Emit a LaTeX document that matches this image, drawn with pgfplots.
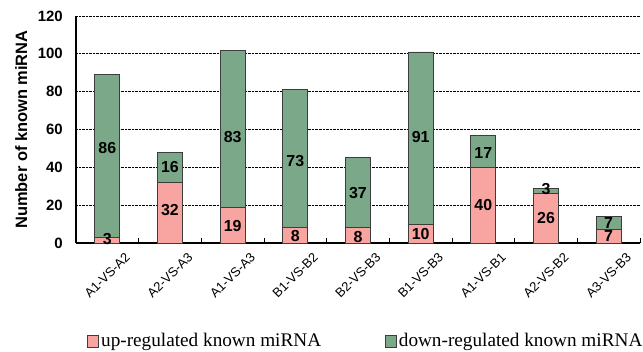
\documentclass[border=0pt]{standalone}
\usepackage{pgfplots}
\pgfplotsset{compat=1.18}
\usepackage{fontspec}
\setmainfont{Liberation Sans}
\newfontfamily\legfont{Liberation Serif}
\definecolor{upc}{RGB}{248,164,160}
\definecolor{downc}{RGB}{124,168,138}
\definecolor{edge}{RGB}{60,60,60}
\pgfplotsset{
  common/.style={
    scale only axis, width=564bp, height=227bp,
    xmin=-0.5, xmax=8.5, ymin=0, ymax=120,
  }
}
\begin{document}
\begin{tikzpicture}
\begin{axis}[
  common,
  ybar stacked, bar width=25bp,
  axis lines*=left,
  axis line style={line width=1.3pt, black},
  xtick={0,...,8},
  xticklabels={A1-VS-A2,A2-VS-A3,A1-VS-A3,B1-VS-B2,B2-VS-B3,B1-VS-B3,A1-VS-B1,A2-VS-B2,A3-VS-B3},
  x tick label style={rotate=45, anchor=north east, inner sep=0pt, font=\fontsize{13}{13}\selectfont, xshift=6bp, yshift=-18bp},
  major x tick style={draw=none},
  minor xtick={0.5,1.5,...,8.5},
  minor tick length=5bp,
  minor x tick style={black, line width=0.8pt},
  tick align=inside,
  ytick={0,20,...,120},
  y tick style={draw=none},
  /pgf/number format/assume math mode=true,
  yticklabel style={font=\bfseries\fontsize{15}{15}\selectfont, inner sep=0pt, xshift=-13bp},
  ymajorgrids,
  grid style={densely dotted, black, line width=0.9pt},
  ylabel={\bfseries Number of known miRNA},
  ylabel style={font=\fontsize{16.5}{16.5}\selectfont, yshift=7bp},
  legend style={draw=none, at={(0.02,-0.432)}, anchor=west, legend columns=2,
    inner xsep=0pt,
    font=\legfont\fontsize{19.3}{19.3}\selectfont,
    nodes={inner xsep=2bp},
    /tikz/every even column/.append style={column sep=62bp}},
  legend image code/.code={\draw[#1, draw=edge, line width=0.7pt] (0bp,-6bp) rectangle (11bp,6bp);},
]
\coordinate (O) at (rel axis cs:0,0);
\addplot[fill=upc, draw=edge, line width=0.8pt] coordinates {(0,3) (1,32) (2,19) (3,8) (4,8) (5,10) (6,40) (7,26) (8,7)};
\addlegendentry{up-regulated known miRNA}
\addplot[fill=downc, draw=edge, line width=0.8pt] coordinates {(0,86) (1,16) (2,83) (3,73) (4,37) (5,91) (6,17) (7,3) (8,7)};
\addlegendentry{down-regulated known miRNA}
\end{axis}
\begin{axis}[
  common, hide axis,
]
\addplot[only marks, mark=none, nodes near coords, point meta=explicit symbolic,
  nodes near coords style={anchor=center, font=\bfseries\fontsize{16}{16}\selectfont, inner sep=0pt}]
  table[meta=lab] {
x y lab
0 2.2 3
1 17.5 32
2 9 19
3 3.6 8
4 3.4 8
5 4.6 10
6 20 40
7 13 26
8 3.5 7
0 50 86
1 40 16
2 56 83
3 43.5 73
4 26.5 37
5 56 91
6 47.5 17
7 28.5 3
8 10.5 7
};
\end{axis}
\pgfresetboundingbox
\path (O) ++(-76bp,-109bp) rectangle ++(643bp,352bp);
\end{tikzpicture}
\end{document}
